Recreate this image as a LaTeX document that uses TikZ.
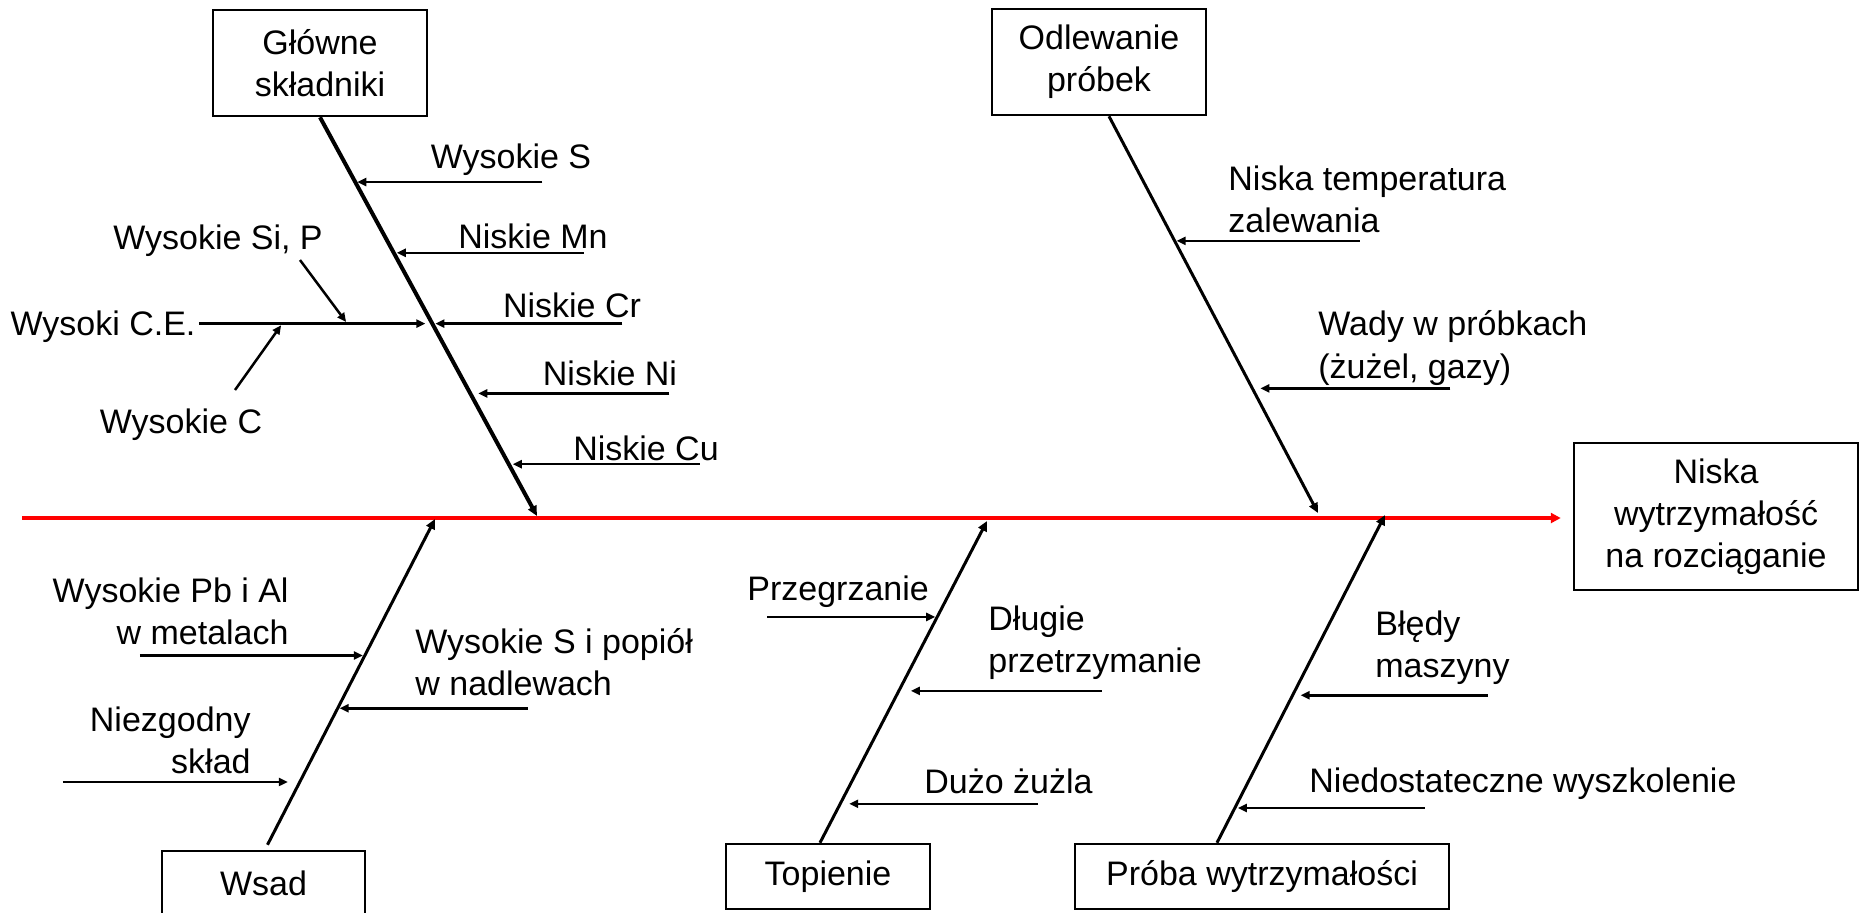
\documentclass[tikz,border=0pt]{standalone}
\usepackage{fontspec}
\setmainfont{Liberation Sans}
\usetikzlibrary{arrows.meta,calc}
\tikzstyle{box} = [rectangle, draw, line width=1.25pt, align=center, inner sep=0pt]
\tikzstyle{cause} = [inner sep=0pt]
\tikzstyle{spine} = [draw=red, line width=2pt, -{Triangle[length=5pt,width=5pt]}]
\tikzstyle{bone} = [draw=black, line width=1.5pt, -{Triangle[length=5pt,width=4.5pt]}]
\tikzstyle{twig} = [draw=black, line width=1.25pt, -{Triangle[length=4.5pt,width=4pt]},
    shorten >=1pt]
\begin{document}
\begin{tikzpicture}[x=0.5pt, y=-0.5pt, font=\fontsize{17}{21}\selectfont]
    \useasboundingbox (0,0) rectangle (1860,912);
    \clip (0,0) rectangle (1860,912);
    % Place nodes
    \node [box, minimum width=107pt, minimum height=53pt] (glowne) at (320,63)
    {Główne\\składniki};
    \node [box, minimum width=107pt, minimum height=53pt] (odlew) at (1099,62)
    {Odlewanie\\próbek};
    \node [box, minimum width=142pt, minimum height=73.5pt] (effect) at (1716,516.5)
    {Niska\\wytrzymałość\\na rozciąganie};
    \node [box, minimum width=101.5pt, minimum height=32.5pt] (wsad) at (263.5,883.5)
    {Wsad};
    \node [box, minimum width=102pt, minimum height=32.5pt] (topienie) at (828,876.5)
    {Topienie};
    \node [box, minimum width=187pt, minimum height=32.5pt] (proba) at (1262,876.5)
    {Próba wytrzymałości};
    \node [cause] (wS) at (511,160) {Wysokie S};
    \node [cause] (nMn) at (533,236) {Niskie Mn};
    \node [cause] (nCr) at (572,305) {Niskie Cr};
    \node [cause] (nNi) at (610,373) {Niskie Ni};
    \node [cause] (nCu) at (646,448) {Niskie Cu};
    \node [cause] (wCE) at (103,327) {Wysoki C.E.};
    \node [cause] (wSiP) at (218,241) {Wysokie Si, P};
    \node [cause] (wC) at (181,425) {Wysokie C};
    \node [cause, anchor=west, align=left] (nTemp) at (1228,199)
    {Niska temperatura\\zalewania};
    \node [cause, anchor=west, align=left] (wady) at (1318,348)
    {Wady w próbkach\\(żużel, gazy)};
    \node [cause, anchor=east, align=right] (wPb) at (289,611)
    {Wysokie Pb i Al\\w metalach};
    \node [cause, anchor=east, align=right] (niez) at (251,740)
    {Niezgodny\\skład};
    \node [cause, anchor=west, align=left] (wSpop) at (415,662)
    {Wysokie S i popiół\\w nadlewach};
    \node [cause, anchor=west] (przeg) at (747,592) {Przegrzanie};
    \node [cause, anchor=west, align=left] (dlug) at (988,643)
    {Długie\\przetrzymanie};
    \node [cause, anchor=west] (duzo) at (924,781) {Dużo żużla};
    \node [cause, anchor=west, align=left] (bledy) at (1375,648)
    {Błędy\\maszyny};
    \node [cause, anchor=west] (niedost) at (1309,784) {Niedostateczne wyszkolenie};
    % Bone ends
    \coordinate (tail) at (22,518);
    \coordinate (bG) at (glowne.south);
    \coordinate (bO) at ([xshift=5pt]odlew.south);
    \coordinate (bW) at ([shift={(4,-5)}]wsad.north);
    \coordinate (bT) at ([xshift=-4pt]topienie.north);
    \coordinate (bP) at ([xshift=-22.5pt]proba.north);
    \coordinate (jG) at (537,516);
    \coordinate (jO) at (1318,513);
    \coordinate (jW) at (435,519);
    \coordinate (jT) at (987,521);
    \coordinate (jP) at (1385,515);
    % Points on the bones
    \coordinate (kS) at ($(bG)!0.1625!(jG)$);
    \coordinate (kMn) at ($(bG)!0.34!(jG)$);
    \coordinate (kCr) at ($(bG)!0.5175!(jG)$);
    \coordinate (kNi) at ($(bG)!0.6925!(jG)$);
    \coordinate (kCu) at ($(bG)!0.87!(jG)$);
    \coordinate (kTemp) at ($(bO)!0.3141!(jO)$);
    \coordinate (kWady) at ($(bO)!0.6859!(jO)$);
    \coordinate (kPb) at ($(bW)!0.581!(jW)$);
    \coordinate (kNiez) at ($(bW)!0.1927!(jW)$);
    \coordinate (kSpop) at ($(bW)!0.419!(jW)$);
    \coordinate (kPrz) at ($(bT)!0.702!(jT)$);
    \coordinate (kDl) at ($(bT)!0.472!(jT)$);
    \coordinate (kDu) at ($(bT)!0.121!(jT)$);
    \coordinate (kBl) at ($(bP)!0.45!(jP)$);
    \coordinate (kNd) at ($(bP)!0.106!(jP)$);
    % Free ends of the arrows
    \coordinate (tS) at ($(kS)+(187,0)$);
    \coordinate (tMn) at ($(kMn)+(190,0)$);
    \coordinate (tCr) at ($(kCr)+(190,0)$);
    \coordinate (tNi) at ($(kNi)+(199,0)$);
    \coordinate (tCu) at ($(kCu)+(191,0)$);
    \coordinate (tTemp) at ($(kTemp)+(185,0)$);
    \coordinate (tWady) at ($(kWady)+(198,0)$);
    \coordinate (tPb) at ($(kPb)+(-225,0)$);
    \coordinate (tNiez) at ($(kNiez)+(-237,0)$);
    \coordinate (tSpop) at ($(kSpop)+(190,0)$);
    \coordinate (tPrz) at ($(kPrz)+(-170,0)$);
    \coordinate (tDl) at ($(kDl)+(203,0)$);
    \coordinate (tDu) at ($(kDu)+(198,0)$);
    \coordinate (tBl) at ($(kBl)+(195,0)$);
    \coordinate (tNd) at ($(kNd)+(190,0)$);
    \coordinate (eSi) at ($(kCr)+(-85,0)$);
    \coordinate (eC) at ($(kCr)+(-150,0)$);
    \coordinate (tSi) at (300,260);
    \coordinate (tC) at (235,390);
    % Draw edges
    \draw [spine, shorten >=6pt] (tail) -- (tail -| effect.west);
    \draw [bone, line width=2pt] (bG) -- (jG);
    \draw [bone] (bO) -- (jO);
    \draw [bone] (bW) -- (jW);
    \draw [bone] (bT) -- (jT);
    \draw [bone] (bP) -- (jP);
    \draw [twig] (tS) -- (kS);
    \draw [twig, shorten >=1.5pt] (tMn) -- (kMn);
    \draw [twig, shorten >=1.5pt] (tCr) -- (kCr);
    \draw [twig, shorten >=4pt] (tNi) -- (kNi);
    \draw [twig, shorten >=2pt] (tCu) -- (kCu);
    \draw [twig, shorten <=1.5pt, shorten >=3.5pt] (wCE.east |- kCr) -- (kCr);
    \draw [twig] (tSi) -- (eSi);
    \draw [twig] (tC) -- (eC);
    \draw [twig] (tTemp) -- (kTemp);
    \draw [twig, shorten >=4pt] (tWady) -- (kWady);
    \draw [twig] (tPb) -- (kPb);
    \draw [twig, shorten >=6pt] (tNiez) -- (kNiez);
    \draw [twig] (tSpop) -- (kSpop);
    \draw [twig] (tPrz) -- (kPrz);
    \draw [twig, shorten >=6pt] (tDl) -- (kDl);
    \draw [twig, shorten >=4.5pt] (tDu) -- (kDu);
    \draw [twig, shorten >=4pt] (tBl) -- (kBl);
    \draw [twig, shorten >=1.5pt] (tNd) -- (kNd);
\end{tikzpicture}
\end{document}
